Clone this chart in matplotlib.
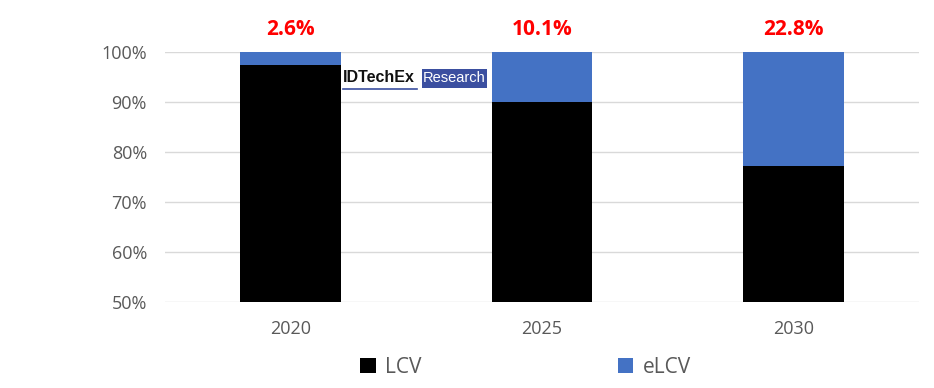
import matplotlib
matplotlib.use("Agg")
import matplotlib.pyplot as plt
from matplotlib.patches import Rectangle
import matplotlib.ticker as mticker

# ---------------------------------------------------------------------------
# Data
# ---------------------------------------------------------------------------
years = ["2020", "2025", "2030"]
elcv_share = [2.6, 10.1, 22.8]
lcv_share = [100 - v for v in elcv_share]
share_labels = ["2.6%", "10.1%", "22.8%"]
y_ticks = [50, 60, 70, 80, 90, 100]

LCV_COLOR = "#000000"
ELCV_COLOR = "#4472C4"
TEXT_GREY = "#595959"

plt.rcParams["font.family"] = ["Open Sans", "DejaVu Sans"]

fig = plt.figure(figsize=(9.34, 3.88), dpi=100)
ax = fig.add_axes([0.1767, 0.2216, 0.8073, 0.6444])

x = range(len(years))
ax.bar(x, lcv_share, width=0.40, color=LCV_COLOR, label="LCV", zorder=2)
ax.bar(x, elcv_share, width=0.40, bottom=lcv_share, color=ELCV_COLOR,
       label="eLCV", zorder=2)

# share of eLCV above each bar
for i, lab in enumerate(share_labels):
    ax.text(i, 102.3, lab, ha="center", va="bottom", color="#FF0000",
            fontsize=15, fontweight="bold")

ax.set_xlim(-0.5, len(years) - 0.5)
ax.set_ylim(50, 100)
ax.set_yticks(y_ticks)
ax.yaxis.set_major_formatter(mticker.FuncFormatter(lambda v, _: f"{v:.0f}%"))
ax.set_xticks(list(x))
ax.set_xticklabels(years)
ax.tick_params(axis="both", length=0, labelsize=13, colors=TEXT_GREY)
ax.tick_params(axis="y", pad=13)
ax.tick_params(axis="x", pad=13)
ax.grid(axis="y", color="#D9D9D9", linewidth=1, zorder=0)
for s in ax.spines.values():
    s.set_visible(False)

# legend
leg = fig.legend(loc="lower center", bbox_to_anchor=(0.5626, -0.022), ncol=2,
                 frameon=False, fontsize=15, handlelength=0.75,
                 handleheight=0.75, handletextpad=0.45, columnspacing=9.4)
for t in leg.get_texts():
    t.set_color(TEXT_GREY)

# watermark logo
fig.text(343 / 934, 1 - 78 / 388, "IDTechEx", ha="left", va="center",
         fontsize=11.5, fontweight="bold", color="#111111",
         family=["Liberation Sans", "DejaVu Sans"])
fig.add_artist(plt.Line2D([343 / 934, 417 / 934], [1 - 89 / 388] * 2,
                          color="#3B4FA0", linewidth=1.2))
fig.add_artist(Rectangle((422 / 934, 1 - 88 / 388), 65 / 934, 19 / 388,
                         transform=fig.transFigure, facecolor="#3B4FA0",
                         edgecolor="none"))
fig.text(454.5 / 934, 1 - 78.5 / 388, "Research", ha="center", va="center",
         fontsize=10.5, color="white", family=["Liberation Sans", "DejaVu Sans"])

fig.savefig("out.png", dpi=100)
